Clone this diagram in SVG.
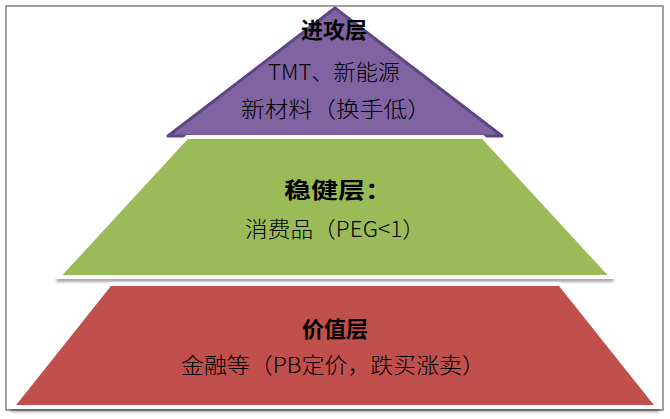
<svg xmlns="http://www.w3.org/2000/svg" width="670" height="419" viewBox="0 0 670 419">
<defs>
<style>
.t{font-family:"Noto Sans CJK SC","Noto Sans",sans-serif;fill:#000;text-anchor:middle}
.h{font-size:22px;font-weight:bold}
.b{font-size:22px;font-weight:300}
.tier{stroke:#fff;stroke-width:4;stroke-linejoin:round;filter:url(#sh)}
</style>
<filter id="sh" x="-10%" y="-10%" width="120%" height="130%">
<feDropShadow dx="0" dy="3" stdDeviation="1.5" flood-color="#000" flood-opacity="0.35"/>
</filter>
</defs>
<rect x="6" y="6" width="657" height="404" fill="#fff" stroke="#808080" stroke-width="1.5"/>
<g id="attack">
<polygon points="335,8 168,136 502,136" fill="#8064A2" stroke="#5C4683" stroke-width="3" stroke-linejoin="round"/>
</g>
<g id="steady">
<polygon class="tier" points="187,137 483,137 612,277 58,277" fill="#9BBB59"/>
</g>
<g id="value">
<polygon class="tier" points="110,284 560,284 658,407 12,407" fill="#C0504D"/>
</g>
<g id="labels">
<text class="t h" x="334" y="38" textLength="66" lengthAdjust="spacingAndGlyphs">进攻层</text>
<text class="t b" x="334" y="80" textLength="132" lengthAdjust="spacingAndGlyphs">TMT、新能源</text>
<text class="t b" x="336" y="117" textLength="190" lengthAdjust="spacingAndGlyphs">新材料（换手低）</text>
<text class="t h" x="338" y="198" textLength="108" lengthAdjust="spacingAndGlyphs">稳健层：</text>
<text class="t b" x="335" y="237" textLength="180" lengthAdjust="spacingAndGlyphs">消费品（PEG&lt;1）</text>
<text class="t h" x="335" y="337" textLength="66" lengthAdjust="spacingAndGlyphs">价值层</text>
<text class="t b" x="333" y="373" textLength="304" lengthAdjust="spacingAndGlyphs">金融等（PB定价，跌买涨卖）</text>
</g>
</svg>
